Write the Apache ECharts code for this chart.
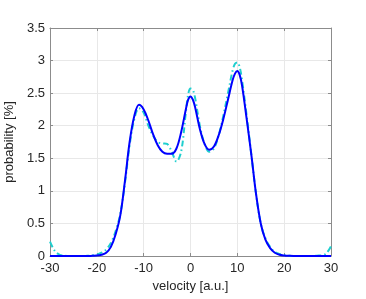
<!DOCTYPE html>
<html><head><meta charset="utf-8">
<script src="https://cdn.jsdelivr.net/npm/echarts@6/dist/echarts.min.js"></script>
<style>html,body{margin:0;padding:0;background:#fff}#c{width:366px;height:299px}</style>
</head><body><div id="c"></div>
<script>
var velocity = [-30,-29,-28,-27,-26,-25,-24,-23,-22,-21,-20,-19,-18,-17,-16,-15,-14,-13,-12,-11,-10,-9,-8,-7,-6,-5,-4,-3,-2,-1,-0.5,0,0.5,1,2,3,4,5,6,7,8,9,9.5,10,10.5,11,12,13,14,15,16,17,18,19,20,21,22,23,24,25,26,27,28,29,30];
var blueVals = [0,0,0,0,0,0,0,0,0,0.003,0.006,0.02,0.05,0.14,0.33,0.62,1.15,1.75,2.15,2.32,2.25,2.08,1.87,1.7,1.6,1.57,1.57,1.65,1.9,2.25,2.4,2.45,2.4,2.28,1.95,1.72,1.63,1.68,1.85,2.1,2.4,2.7,2.8,2.84,2.78,2.62,2.1,1.55,0.95,0.5,0.25,0.12,0.05,0.02,0.008,0.003,0,0,0,0,0,0,0,0,0];
var cyanVals = [0.22,0.08,0.02,0.005,0,0,0,0,0.003,0.01,0.02,0.05,0.1,0.2,0.38,0.64,1.12,1.7,2.1,2.27,2.2,2.0,1.85,1.75,1.73,1.72,1.6,1.45,1.6,2.2,2.48,2.57,2.55,2.42,2.0,1.72,1.6,1.65,1.85,2.15,2.5,2.85,2.95,2.97,2.9,2.7,2.15,1.55,0.95,0.5,0.27,0.14,0.06,0.03,0.015,0.005,0,0,0,0,0,0.005,0.01,0.04,0.15];
var xTicks = [-30,-20,-10,0,10,20,30];
var yTicks = [0,0.5,1,1.5,2,2.5,3,3.5];

function pairs(xs, ys){ return xs.map(function(x,i){return [x, ys[i]];}); }
var txt = '#262626', axc = '#8c8c8c', grd = '#e8e8e8';
var font = 'Liberation Sans';
var chart = echarts.init(document.getElementById('c'));
var baseX = {type:'value', min:-30, max:30, interval:10,
  axisLine:{show:true, onZero:false, lineStyle:{color:axc, width:1}},
  axisTick:{show:true, inside:true, length:3, lineStyle:{color:axc}},
  splitLine:{show:true, lineStyle:{color:grd, width:1}}};
var baseY = {type:'value', min:0, max:3.5, interval:0.5,
  axisLine:{show:true, onZero:false, lineStyle:{color:axc, width:1}},
  axisTick:{show:true, inside:true, length:3, lineStyle:{color:axc}},
  splitLine:{show:true, lineStyle:{color:grd, width:1}}};
chart.setOption({
  animation:false,
  grid:{left:50, right:35, top:28, bottom:43, containLabel:false, outerBoundsMode:'none'},
  xAxis:[
    Object.assign({}, baseX, {position:'bottom', name:'velocity [a.u.]', nameLocation:'middle', nameGap:23,
      nameTextStyle:{color:txt, fontSize:13, fontFamily:font},
      axisLabel:{color:txt, fontSize:13, fontFamily:font, margin:6}}),
    Object.assign({}, baseX, {position:'top', axisLabel:{show:false}, splitLine:{show:false}})
  ],
  yAxis:[
    Object.assign({}, baseY, {position:'left', name:'probability [%]', nameLocation:'middle', nameGap:28,
      nameTextStyle:{color:txt, fontSize:13, fontFamily:font},
      axisLabel:{color:txt, fontSize:13, fontFamily:font, margin:5}}),
    Object.assign({}, baseY, {position:'right', axisLabel:{show:false}, splitLine:{show:false}})
  ],
  series:[
    {name:'blue', type:'line', data:pairs(velocity, blueVals), showSymbol:false, smooth:0.35,
     lineStyle:{color:'#0000ff', width:2}, z:3},
    {name:'cyan', type:'line', data:pairs(velocity, cyanVals), showSymbol:false, smooth:0.35,
     lineStyle:{color:'#1fcfcf', width:2, type:[6,3,1.5,3]}, z:2}
  ]
});
</script></body></html>
